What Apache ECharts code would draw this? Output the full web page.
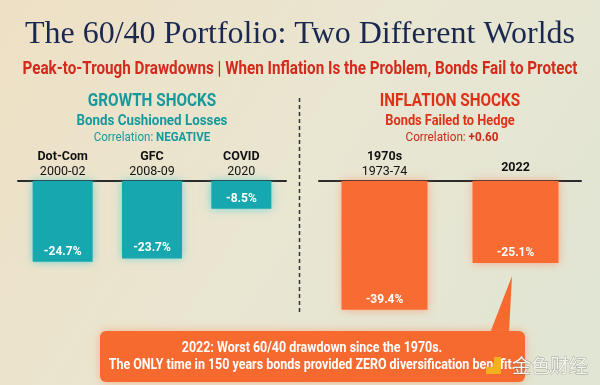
<!DOCTYPE html>
<html><head><meta charset="utf-8">
<script src="https://cdn.jsdelivr.net/npm/echarts@6/dist/echarts.min.js"></script>
<style>html,body{margin:0;padding:0;}#c{width:600px;height:385px;}</style>
</head><body><div id="c"></div>
<script>
const growthNames = ['Dot-Com', 'GFC', 'COVID'];
const growthYears = ['2000-02', '2008-09', '2020'];
const growthValues = [-24.7, -23.7, -8.5];
const inflationNames = ['1970s', '2022'];
const inflationYears = ['1973-74', ''];
const inflationValues = [-39.4, -25.1];

const SANS = "Roboto, sans-serif";
const chart = echarts.init(document.getElementById('c'), null, {renderer: 'canvas'});

function catLabels(names, years) {
  return names.map((n, i) => years[i] ? '{b|' + n + '}\n{y|' + years[i] + '}' : '{s|' + n + '}');
}
const gCats = catLabels(growthNames, growthYears);
const iCats = catLabels(inflationNames, inflationYears);

const axisLabelCfg = {
  margin: 2,
  rich: {
    b: {fontFamily: SANS, fontWeight: 'bold', fontSize: 12.5, color: '#111', lineHeight: 14},
    y: {fontFamily: SANS, fontSize: 12.5, color: '#111', lineHeight: 15},
    s: {fontFamily: SANS, fontWeight: 'bold', fontSize: 12.5, color: '#111', lineHeight: 20, padding: [0, 0, 3, 0]}
  }
};

function barLabel() {
  return {show: true, position: 'insideBottom', distance: 4, color: '#fff', fontFamily: SANS,
    fontWeight: 'bold', fontSize: 12, formatter: p => p.value.toFixed(1) + '%'};
}

function ctext(x, y, text, font, fill, sx) {
  return {type: 'text', x: x, y: y, scaleX: sx, style: {text: text, align: 'center', verticalAlign: 'middle',
    font: font, fill: fill}};
}

chart.setOption({
  backgroundColor: {type: 'linear', x: 0, y: 0, x2: 1, y2: 1, colorStops: [
    {offset: 0, color: '#eee0c4'}, {offset: 0.5, color: '#e9e6d2'}, {offset: 1, color: '#e0e5d4'}]},
  animation: false,
  grid: [
    {left: 18, width: 268, top: 181, height: 147},
    {left: 319, width: 262, top: 181, height: 147}
  ],
  xAxis: [
    {gridIndex: 0, type: 'category', position: 'top', data: gCats,
      axisLine: {lineStyle: {color: '#2b2b2b', width: 2}}, axisTick: {show: false}, axisLabel: axisLabelCfg},
    {gridIndex: 1, type: 'category', position: 'top', data: iCats,
      axisLine: {lineStyle: {color: '#2b2b2b', width: 2}}, axisTick: {show: false}, axisLabel: axisLabelCfg}
  ],
  yAxis: [
    {gridIndex: 0, type: 'value', min: -45, max: 0, show: false},
    {gridIndex: 1, type: 'value', min: -45, max: 0, show: false}
  ],
  series: [
    {type: 'bar', xAxisIndex: 0, yAxisIndex: 0, data: growthValues, barWidth: 60,
      itemStyle: {color: '#17a7ae', shadowColor: 'rgba(40,200,210,0.6)', shadowBlur: 8},
      label: barLabel()},
    {type: 'bar', xAxisIndex: 1, yAxisIndex: 1, data: inflationValues, barWidth: 86,
      itemStyle: {color: '#f86c33', shadowColor: 'rgba(255,120,70,0.55)', shadowBlur: 9},
      label: barLabel()}
  ],
  title: [
    {text: 'The 60/40 Portfolio: Two Different Worlds', left: 'center', top: 14,
      textStyle: {fontFamily: "'Liberation Serif', serif", fontWeight: 'normal', fontSize: 32, color: '#1a2850'}}
  ],
  graphic: [
    ctext(300, 69, 'Peak-to-Trough Drawdowns | When Inflation Is the Problem, Bonds Fail to Protect',
      "bold 18px " + SANS, '#d42a1c', 0.845),
    ctext(152, 101, 'GROWTH SHOCKS', "bold 18px " + SANS, '#17999c', 0.85),
    ctext(152, 121, 'Bonds Cushioned Losses', "bold 15px " + SANS, '#17999c', 0.89),
    {type: 'text', x: 152, y: 138, scaleX: 0.89, style: {text: '{n|Correlation: }{b|NEGATIVE}', align: 'center', verticalAlign: 'middle',
      rich: {n: {fontFamily: SANS, fontSize: 13, fill: '#17999c'}, b: {fontFamily: SANS, fontSize: 13, fontWeight: 'bold', fill: '#17999c'}}}},
    ctext(450, 101, 'INFLATION SHOCKS', "bold 18px " + SANS, '#dd3218', 0.85),
    ctext(450, 121, 'Bonds Failed to Hedge', "bold 15px " + SANS, '#dd3218', 0.855),
    {type: 'text', x: 452, y: 138, scaleX: 0.9, style: {text: '{n|Correlation: }{b|+0.60}', align: 'center', verticalAlign: 'middle',
      rich: {n: {fontFamily: SANS, fontSize: 13, fill: '#cc2a18'}, b: {fontFamily: SANS, fontSize: 13, fontWeight: 'bold', fill: '#cc2a18'}}}},
    {type: 'line', shape: {x1: 299.5, y1: 98, x2: 299.5, y2: 312},
      style: {stroke: '#333', lineWidth: 1.5, lineDash: [4, 3]}},
    {type: 'polygon', shape: {points: [[512, 276], [490, 333], [509, 333]]},
      style: {fill: '#f66a30'}},
    {type: 'rect', shape: {x: 100, y: 331, width: 425, height: 51, r: 6},
      style: {fill: '#f66a30', shadowColor: 'rgba(255,130,70,0.5)', shadowBlur: 8}},
    ctext(312, 348, '2022: Worst 60/40 drawdown since the 1970s.', "bold 15px " + SANS, '#fff', 0.83),
    ctext(312, 365, 'The ONLY time in 150 years bonds provided ZERO diversification benefit.', "bold 15px " + SANS, '#fff', 0.83),
    {type: 'rect', shape: {x: 494, y: 357, width: 7, height: 17}, style: {fill: '#f2b21e'}},
    {type: 'rect', shape: {x: 486, y: 367, width: 10, height: 7}, style: {fill: '#f2b21e'}},
    {type: 'text', x: 550, y: 366, style: {text: '金色财经', align: 'center', verticalAlign: 'middle',
      font: "19px 'Noto Sans CJK SC'", fill: '#f4f4ee', stroke: 'rgba(90,90,90,0.5)', lineWidth: 0.8}}
  ]
});
</script>
</body></html>
